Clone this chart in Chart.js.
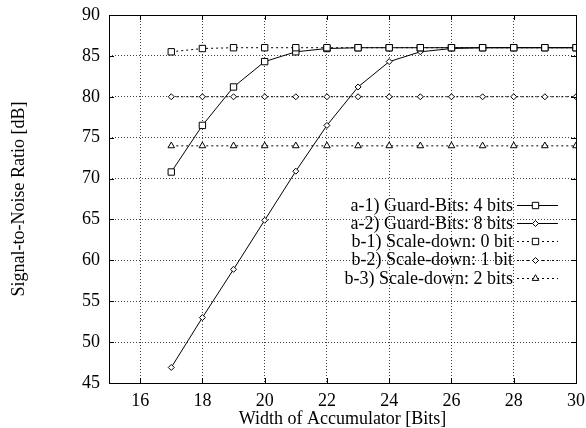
<!DOCTYPE html>
<html>
<head>
<meta charset="utf-8">
<script src="https://cdn.jsdelivr.net/npm/chart.js@4"></script>
<style>
  html, body { margin: 0; padding: 0; background: #fff; }
  #wrap { width: 586px; height: 428px; }
</style>
</head>
<body>
<div id="wrap"><canvas id="c" width="586" height="428"></canvas></div>
<script>
// ---- data ----
const widths = [17, 18, 19, 20, 21, 22, 23, 24, 25, 26, 27, 28, 29, 30];
const guard4 = [70.8, 76.5, 81.2, 84.3, 85.5, 85.9, 86, 86, 86, 86, 86, 86, 86, 86];
const guard8 = [46.9, 53.0, 58.9, 64.9, 70.9, 76.5, 81.2, 84.3, 85.5, 85.9, 86, 86, 86, 86];
const scale0 = [85.5, 85.9, 86, 86, 86, 86, 86, 86, 86, 86, 86, 86, 86, 86];
const scale1 = [80, 80, 80, 80, 80, 80, 80, 80, 80, 80, 80, 80, 80, 80];
const scale2 = [74, 74, 74, 74, 74, 74, 74, 74, 74, 74, 74, 74, 74, 74];
const seriesLabels = [
  'a-1) Guard-Bits: 4 bits',
  'a-2) Guard-Bits: 8 bits',
  'b-1) Scale-down: 0 bit',
  'b-2) Scale-down: 1 bit',
  'b-3) Scale-down: 2 bits'
];
const xTickValues = [16, 18, 20, 22, 24, 26, 28, 30];
const yTickValues = [45, 50, 55, 60, 65, 70, 75, 80, 85, 90];
const xTitle = 'Width of Accumulator [Bits]';
const yTitle = 'Signal-to-Noise Ratio [dB]';

const FONT = '"Liberation Serif", "Times New Roman", serif';

function pts(ys) { return widths.map((x, i) => ({ x: x, y: ys[i] })); }

function ds(label, ys, style, radius, dash) {
  return {
    label: label,
    data: pts(ys),
    borderColor: '#000',
    borderWidth: 1,
    borderDash: dash,
    pointStyle: style,
    pointRadius: radius,
    pointHoverRadius: radius,
    pointBorderColor: '#000',
    pointBackgroundColor: '#fff',
    pointBorderWidth: 1,
    fill: false,
    tension: 0
  };
}

const datasets = [
  ds(seriesLabels[2], scale0, 'rect', 4.5, [2, 3]),
  ds(seriesLabels[3], scale1, 'rectRot', 3, [2, 3]),
  ds(seriesLabels[4], scale2, 'triangle', 3.8, [2, 3]),
  ds(seriesLabels[0], guard4, 'rect', 4.5, []),
  ds(seriesLabels[1], guard8, 'rectRot', 3, [])
];
const legendOrder = [3, 4, 0, 1, 2];

const framePlugin = {
  id: 'frame',
  afterDatasetsDraw(chart) {
    const { ctx, chartArea: a, scales } = chart;
    ctx.save();
    ctx.strokeStyle = '#000';
    ctx.lineWidth = 1;
    ctx.setLineDash([]);
    ctx.strokeRect(Math.round(a.left) + 0.5, Math.round(a.top) + 0.5,
      Math.round(a.right - a.left), Math.round(a.bottom - a.top));
    // inward tick marks (mirrored), positioned by the scales
    ctx.beginPath();
    const tl = 5;
    scales.x.ticks.forEach(t => {
      const px = Math.round(scales.x.getPixelForValue(t.value)) + 0.5;
      ctx.moveTo(px, a.bottom); ctx.lineTo(px, a.bottom - tl);
      ctx.moveTo(px, a.top); ctx.lineTo(px, a.top + tl);
    });
    scales.y.ticks.forEach(t => {
      const py = Math.round(scales.y.getPixelForValue(t.value)) + 0.5;
      ctx.moveTo(a.left, py); ctx.lineTo(a.left + tl, py);
      ctx.moveTo(a.right, py); ctx.lineTo(a.right - tl, py);
    });
    ctx.stroke();

    // legend inside the plot, gnuplot style (text right-aligned, sample on the right)
    const textRight = 513, sx1 = 517, sx2 = 558, rowY0 = 205, rowH = 18.2;
    ctx.font = '18px ' + FONT;
    ctx.textAlign = 'right';
    ctx.textBaseline = 'middle';
    legendOrder.forEach((di, k) => {
      const d = chart.data.datasets[di];
      const y = rowY0 + k * rowH;
      ctx.fillStyle = '#000';
      ctx.fillText(d.label, textRight, y + 1);
      ctx.beginPath();
      ctx.setLineDash(d.borderDash || []);
      ctx.strokeStyle = '#000';
      ctx.lineWidth = 1;
      ctx.moveTo(sx1, Math.round(y) + 0.5);
      ctx.lineTo(sx2, Math.round(y) + 0.5);
      ctx.stroke();
      ctx.setLineDash([]);
      ctx.fillStyle = '#fff';
      Chart.helpers.drawPoint(ctx, {
        pointStyle: d.pointStyle, radius: d.pointRadius, rotation: 0, borderWidth: 1
      }, (sx1 + sx2) / 2 - 2, Math.round(y) + 0.5);
    });
    ctx.restore();
  }
};

new Chart(document.getElementById('c'), {
  type: 'line',
  data: { datasets: datasets },
  plugins: [framePlugin],
  options: {
    responsive: false,
    animation: false,
    devicePixelRatio: 1,
    layout: { padding: { left: 0, right: 10, top: 15, bottom: 0 } },
    plugins: { legend: { display: false }, tooltip: { enabled: false } },
    scales: {
      x: {
        type: 'linear',
        min: 15, max: 30,
        afterBuildTicks: (axis) => { axis.ticks = xTickValues.map(v => ({ value: v })); },
        afterFit: (axis) => { axis.height = 45; axis.paddingLeft = 0; axis.paddingRight = 0; },
        grid: { color: 'rgba(0,0,0,0.75)', lineWidth: 1, drawTicks: false },
        border: { display: false, dash: [1, 2] },
        ticks: { color: '#000', padding: 7, font: { family: FONT, size: 18 }, maxRotation: 0, autoSkip: false },
        title: { display: true, text: xTitle, color: '#000', font: { family: FONT, size: 18, lineHeight: 1 }, padding: 0 }
      },
      y: {
        type: 'linear',
        min: 45, max: 90,
        afterBuildTicks: (axis) => { axis.ticks = yTickValues.map(v => ({ value: v })); },
        afterFit: (axis) => { axis.width = 109; axis.paddingTop = 0; axis.paddingBottom = 0; },
        grid: { color: 'rgba(0,0,0,0.75)', lineWidth: 1, drawTicks: false },
        border: { display: false, dash: [1, 2] },
        ticks: { color: '#000', padding: 9, font: { family: FONT, size: 18 }, autoSkip: false },
        title: { display: true, text: yTitle, color: '#000', font: { family: FONT, size: 18, lineHeight: 1 }, padding: { top: 10, bottom: 0 } }
      }
    }
  }
});
</script>
</body>
</html>
